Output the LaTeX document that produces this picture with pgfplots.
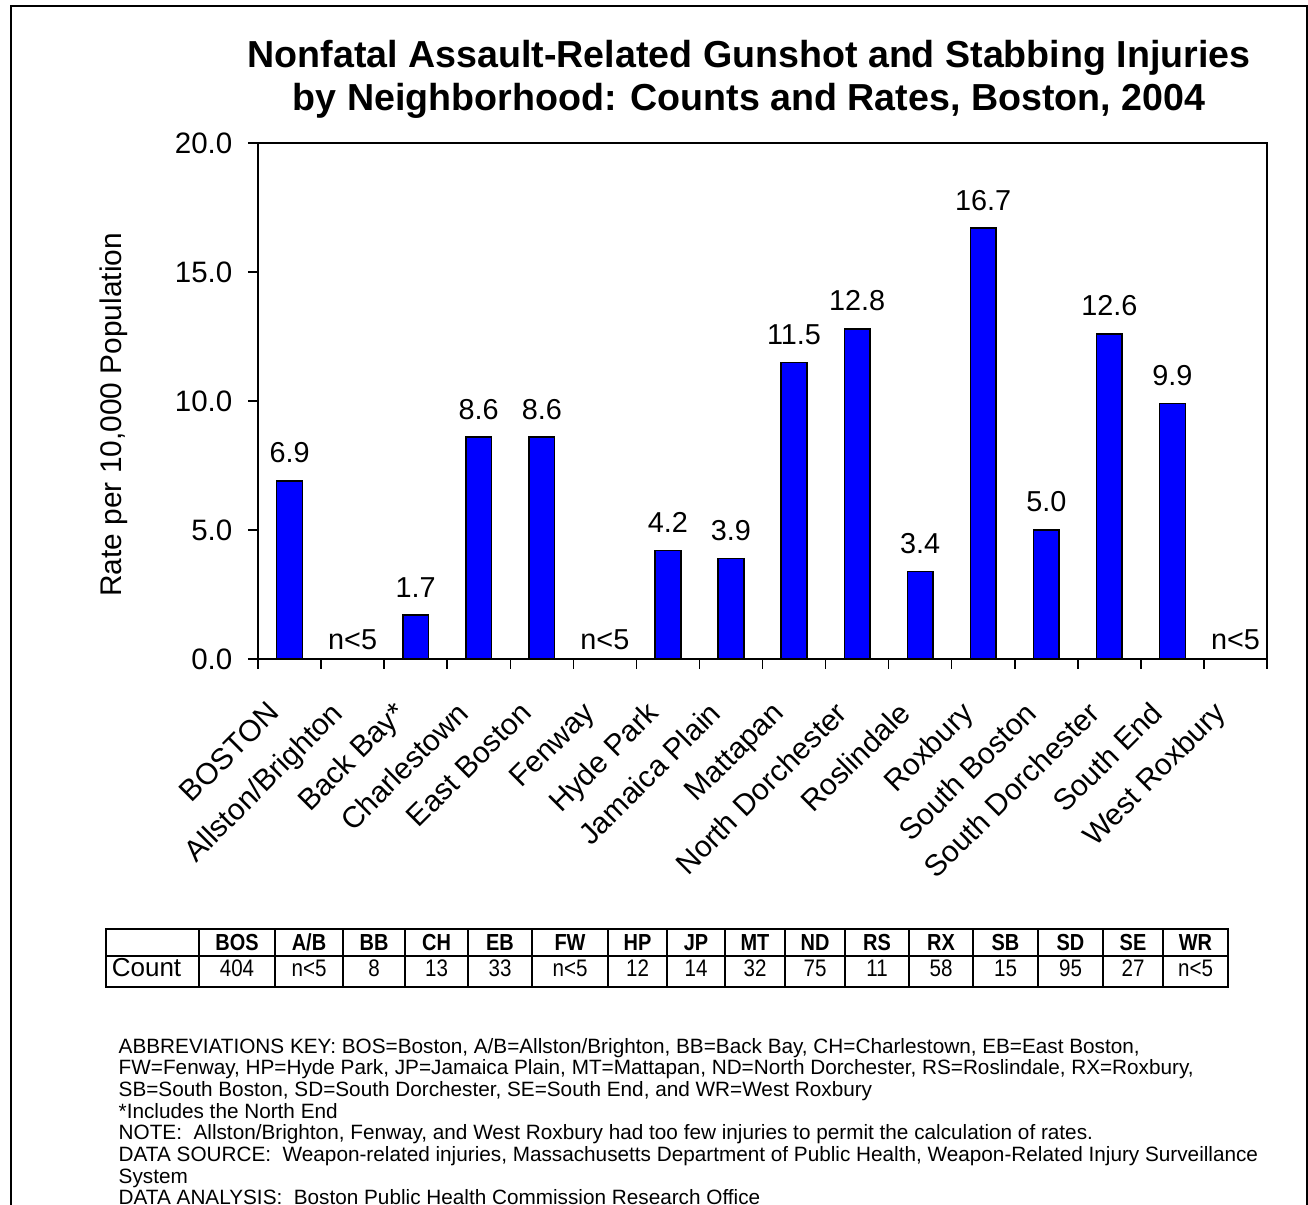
\documentclass[border=0pt]{standalone}
\usepackage{fontspec}
\setmainfont{Liberation Sans}
\newfontfamily\notefont[FakeStretch=0.86]{Liberation Sans}
\usepackage{pgfplots}
\pgfplotsset{compat=1.18}
\usepackage{pgfplotstable}

% rates per 10,000 (bars)
\pgfplotstableread{
x y lab
0.5 6.9 6.9
2.5 1.7 1.7
3.5 8.6 8.6
4.5 8.6 8.6
6.5 4.2 4.2
7.5 3.9 3.9
8.5 11.5 11.5
9.5 12.8 12.8
10.5 3.4 3.4
11.5 16.7 16.7
12.5 5.0 5.0
13.5 12.6 12.6
14.5 9.9 9.9
}\rates
% neighbourhoods with too few injuries
\pgfplotstableread{
x y lab
1.5 0 n<5
5.5 0 n<5
15.5 0 n<5
}\fewcases

\begin{document}
\begin{tikzpicture}
\useasboundingbox (0,0) rectangle (130.8mm,-120.5mm);
\draw[line width=0.2mm] (1.1mm,-120.5mm) -- (1.1mm,-0.65mm) -- (130.65mm,-0.65mm) -- (130.65mm,-120.5mm);

\begin{axis}[
  at={(25.8mm,-65.9mm)}, anchor=south west,
  scale only axis, width=100.9mm, height=51.6mm,
  xmin=0, xmax=16, ymin=0, ymax=20,
  xtick={0,...,16},
  xticklabels={BOSTON,Allston/Brighton,Back Bay*,Charlestown,East Boston,Fenway,Hyde Park,Jamaica Plain,Mattapan,North Dorchester,Roslindale,Roxbury,South Boston,South Dorchester,South End,West Roxbury},
  x tick label as interval,
  ytick={0,5,10,15,20},
  tick pos=left, tick align=outside,
  major tick length=1mm,
  axis line style={line width=0.2mm},
  tick style={line width=0.15mm, black},
  /pgf/number format/assume math mode=true,
  yticklabel style={/pgf/number format/.cd, fixed, fixed zerofill, precision=1, /tikz/.cd,
    font=\fontsize{8.4}{9}\selectfont, anchor=east, inner sep=0pt, xshift=-1.5mm},
  xticklabel style={font=\fontsize{8.5}{9}\selectfont, xshift=-2.35mm, yshift=-3.0mm,
    rotate=45, anchor=north east, inner sep=0pt},
  ylabel={Rate per 10,000 Population},
  ylabel style={font=\fontsize{8.5}{9}\selectfont, at={(axis description cs:-0.143,0.473)}, anchor=center, rotate=0},
  point meta=explicit symbolic,
  nodes near coords,
  every node near coord/.append style={font=\fontsize{8.2}{9}\selectfont, inner sep=0pt, black},
]
\addplot[ybar, bar width=2.57mm, bar shift=0pt, fill=blue, draw=black, line width=0.15mm,
  every node near coord/.append style={yshift=1.7mm}]
  table[x=x, y=y, meta=lab] {\rates};
\addplot[draw=none, mark=none, every node near coord/.append style={yshift=0.9mm}]
  table[x=x, y=y, meta=lab] {\fewcases};
\end{axis}

\begin{scope}[x=0.1mm, y=-0.1mm]
  \node[font=\bfseries\fontsize{10.7}{12}\selectfont, anchor=base] at (749,68)
    {Nonfatal Assault-Related Gunshot and Stabbing Injuries};
  \node[font=\bfseries\fontsize{10.7}{12}\selectfont, anchor=base] at (749,111)
    {by Neighborhood: Counts and Rates, Boston, 2004};

  % count table
  \draw[line width=0.2mm] (105.7,929) rectangle (1228,987);
  \draw[line width=0.2mm] (105.7,956) -- (1228,956);
  \node[anchor=base, inner sep=0pt, font=\fontsize{7.4}{8}\selectfont] at (146.5,976) {Count};
  \foreach \a/\b/\h/\c in {199/275/BOS/404, 275/343/A\slash B/n<5,
      343/405/BB/8, 405/468/CH/13, 468/532/EB/33, 532/608/FW/n<5, 608/667/HP/12,
      667/725/JP/14, 725/785/MT/32, 785/845/ND/75, 845/909/RS/11, 909/973/RX/58,
      973/1038/SB/15, 1038/1103/SD/95, 1103/1163/SE/27, 1163/1228/WR/n<5} {
    \draw[line width=0.2mm] (\a,929) -- (\a,987);
    \node[anchor=base, inner sep=0pt, font=\notefont\bfseries\fontsize{6.6}{7}\selectfont]
      at ({(\a+\b)/2},950) {\h};
    \node[anchor=base, inner sep=0pt, font=\notefont\fontsize{6.8}{7}\selectfont]
      at ({(\a+\b)/2},976) {\c};
  }

  % notes
  \foreach \t [count=\i from 0] in {
    {ABBREVIATIONS KEY: BOS=Boston, A/B=Allston/Brighton, BB=Back Bay, CH=Charlestown, EB=East Boston,},
    {FW=Fenway, HP=Hyde Park, JP=Jamaica Plain, MT=Mattapan, ND=North Dorchester, RS=Roslindale, RX=Roxbury,},
    {SB=South Boston, SD=South Dorchester, SE=South End, and WR=West Roxbury},
    {*Includes the North End},
    {NOTE:\ \ Allston/Brighton, Fenway, and West Roxbury had too few injuries to permit the calculation of rates.},
    {DATA SOURCE:\ \ Weapon-related injuries, Massachusetts Department of Public Health, Weapon-Related Injury Surveillance},
    {System},
    {DATA ANALYSIS:\ \ Boston Public Health Commission Research Office}} {
    \node[anchor=base west, inner sep=0pt, font=\fontsize{5.9}{7}\selectfont]
      at (118,1053+21.7*\i) {\t};
  }
\end{scope}
\end{tikzpicture}
\end{document}
